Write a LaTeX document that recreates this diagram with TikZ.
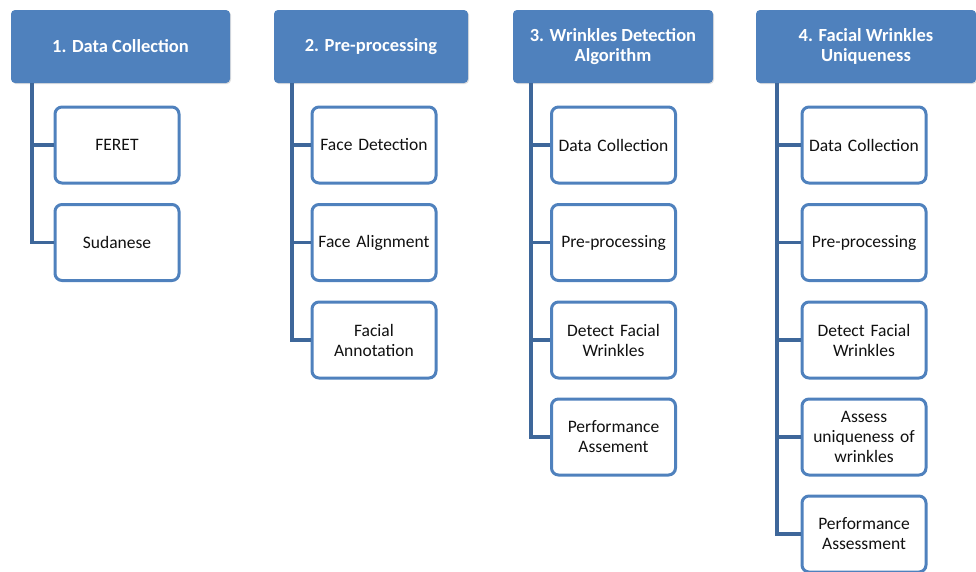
\documentclass[tikz,border=0pt]{standalone}
\usepackage{fontspec}
\setmainfont{Carlito}
\usetikzlibrary{shadows}
\definecolor{hdrblue}{HTML}{4F81BD}
\definecolor{linkblue}{HTML}{3E679A}
\definecolor{txtgray}{HTML}{111111}
\begin{document}
\begin{tikzpicture}[x=1pt,y=-1pt,
  header/.style={draw=none, fill=hdrblue, rounded corners=4pt,
    minimum width=#1, minimum height=73pt, inner sep=2pt,
    text=white, font=\fontsize{18.5}{20}\selectfont\bfseries, align=center,
    drop shadow={shadow xshift=1pt, shadow yshift=-1pt, opacity=0.25}},
  header/.default=200pt,
  child/.style={draw=hdrblue, line width=3pt, fill=white, rounded corners=7pt,
    minimum width=124pt, minimum height=76pt, inner sep=2pt, text width=120pt,
    text=txtgray, font=\fontsize{17.5}{20}\selectfont, align=center},
  link/.style={draw=linkblue, line width=3.5pt}]
\useasboundingbox (0,0) rectangle (976,571);
\clip (0,0) rectangle (976,571);

% column headers
\node[header=219pt] (h1) at (120.5,46.5) {1. Data Collection};
\node[header=194pt] (h2) at (371,46.5) {2. Pre-processing};
\node[header=200pt] (h3) at (613,46.5) {3. Wrinkles Detection\\Algorithm};
\node[header=220pt] (h4) at (866,46.5) {4. Facial Wrinkles\\Uniqueness};

% column 1
\node[child] (a1) at (117,145) {FERET};
\node[child] (a2) at (117,242.5) {Sudanese};
% column 2
\node[child] (b1) at (374,145) {Face Detection};
\node[child] (b2) at (374,242.5) {Face Alignment};
\node[child] (b3) at (374,340) {Facial\\Annotation};
% column 3
\node[child] (c1) at (613.5,145) {Data Collection};
\node[child] (c2) at (613.5,242.5) {Pre-processing};
\node[child] (c3) at (613.5,340) {Detect Facial\\Wrinkles};
\node[child] (c4) at (613.5,437) {Performance\\Assement};
% column 4
\node[child] (d1) at (864,145) {Data Collection};
\node[child] (d2) at (864,242.5) {Pre-processing};
\node[child] (d3) at (864,340) {Detect Facial\\Wrinkles};
\node[child] (d4) at (864,437) {Assess\\uniqueness of\\wrinkles};
\node[child] (d5) at (864,534) {Performance\\Assessment};

% trunk positions under each header
\coordinate (t1) at (32,83);
\coordinate (t2) at (292,83);
\coordinate (t3) at (531,83);
\coordinate (t4) at (777,83);

% connectors
\foreach \t/\list in {t1/{a1,a2}, t2/{b1,b2,b3}, t3/{c1,c2,c3,c4}, t4/{d1,d2,d3,d4,d5}}{
  \foreach \n in \list {
    \draw[link] (\t) |- (\n.west);
  }
}
\end{tikzpicture}
\end{document}
